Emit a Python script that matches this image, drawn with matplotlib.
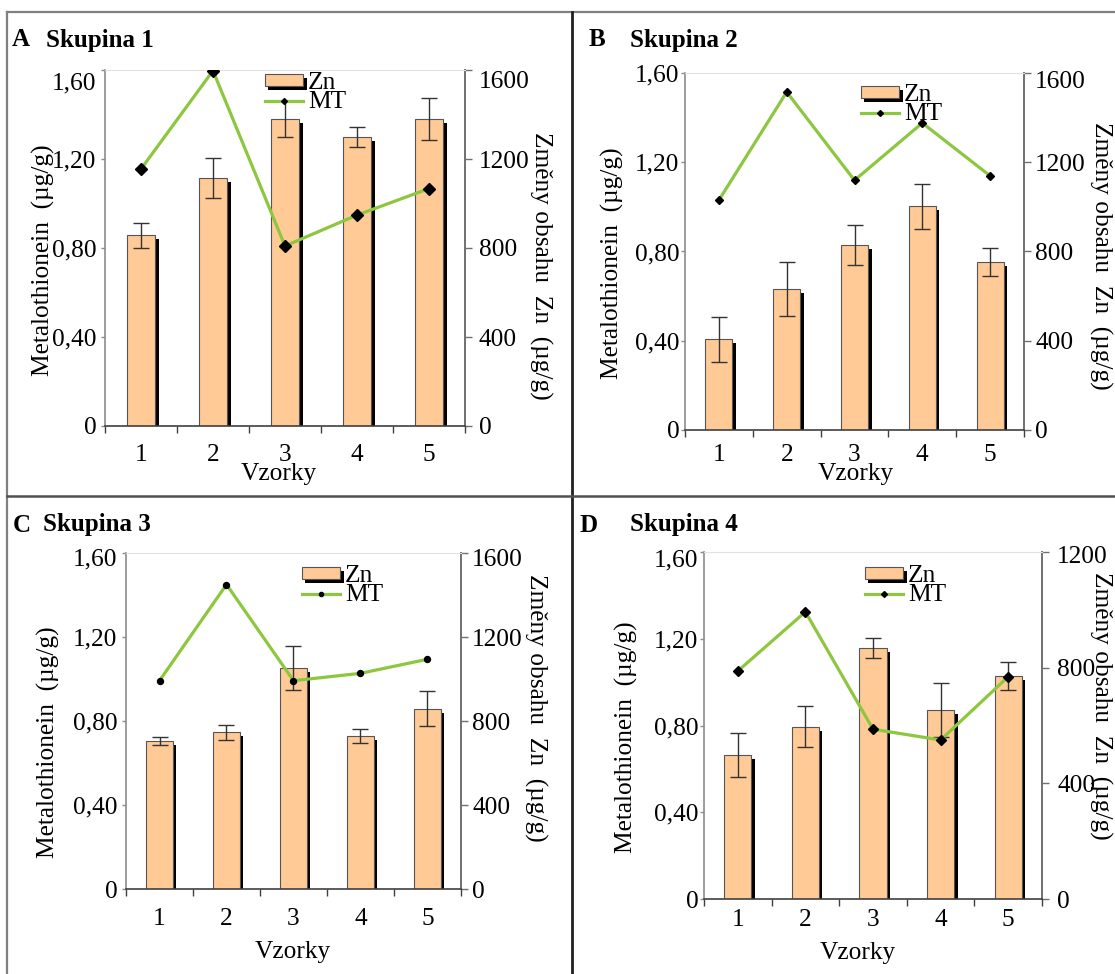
import matplotlib
matplotlib.use("Agg")
import matplotlib.pyplot as plt
from matplotlib.lines import Line2D
from matplotlib import patheffects as pe
from matplotlib.transforms import ScaledTranslation

# ---------------------------------------------------------------- data
samples = [1, 2, 3, 4, 5]
sample_labels = ["1", "2", "3", "4", "5"]

# group 1
zn_1 = [857, 1113, 1381, 1299, 1381]
zn_err_1 = [55, 90, 80, 47, 95]
mt_1 = [1.155, 1.597, 0.809, 0.948, 1.067]

# group 2
zn_2 = [406, 633, 831, 1003, 752]
zn_err_2 = [100, 120, 90, 100, 63]
mt_2 = [1.030, 1.515, 1.119, 1.376, 1.139]

# group 3
zn_3 = [706, 746, 1054, 728, 859]
zn_err_3 = [20, 36, 105, 32, 85]
mt_3 = [0.992, 1.450, 0.992, 1.027, 1.094]

# group 4
zn_4 = [498, 596, 869, 653, 771]
zn_err_4 = [75, 70, 34, 94, 47]
mt_4 = [1.051, 1.324, 0.783, 0.733, 1.025]

mt_ticks = [0, 0.40, 0.80, 1.20, 1.60]
mt_tick_labels = ["0", "0,40", "0,80", "1,20", "1,60"]
zn_ticks_1600 = [0, 400, 800, 1200, 1600]
zn_ticks_1200 = [0, 400, 800, 1200]

# ---------------------------------------------------------------- style
W, H = 1115, 974
plt.rcParams["font.family"] = ["Liberation Serif", "DejaVu Serif"]

BAR_COLOR = "#FFCA96"
LINE_COLOR = "#8DC63F"
FS = 18.3
FS_TITLE = 18

fig = plt.figure(figsize=(W / 100, H / 100), dpi=100)


def fx(px):
    return px / W


def fy(py):
    return 1 - py / H


panels = [
    dict(letter="A", group="Skupina 1", zn=zn_1, err=zn_err_1, mt=mt_1,
         zn_max=1600, zn_ticks=zn_ticks_1600, box=(105, 70, 465, 426),
         marker="D", ms=6.4, xpad=13.0, lpad=3.0, rpad=5.0, top_shift=(11, 10),
         title=(12, 46, 40), ylab_l=(43, 260), ylab_r=(541, 266), xlab=(279, 474),
         legend=(265, 72)),
    dict(letter="B", group="Skupina 2", zn=zn_2, err=zn_err_2, mt=mt_2,
         zn_max=1600, zn_ticks=zn_ticks_1600, box=(685, 73, 1024, 430),
         marker="D", ms=3.6, xpad=10.0, lpad=1.0, rpad=3.0, top_shift=(0, 7),
         title=(589, 630, 40), ylab_l=(612, 263), ylab_r=(1101, 256), xlab=(856, 474),
         legend=(861, 84)),
    dict(letter="C", group="Skupina 3", zn=zn_3, err=zn_err_3, mt=mt_3,
         zn_max=1600, zn_ticks=zn_ticks_1600, box=(126, 553, 461, 889),
         marker="o", ms=4.3, xpad=13.5, lpad=3.0, rpad=3.0, top_shift=(4, 5),
         title=(13, 43, 525), ylab_l=(48, 742), ylab_r=(536, 708), xlab=(293, 952),
         legend=(302, 565)),
    dict(letter="D", group="Skupina 4", zn=zn_4, err=zn_err_4, mt=mt_4,
         zn_max=1200, zn_ticks=zn_ticks_1200, box=(704, 552, 1042, 899),
         marker="D", ms=5.2, xpad=7.5, lpad=1.0, rpad=6.0, top_shift=(6, 3),
         title=(580, 630, 525), ylab_l=(626, 737), ylab_r=(1101, 706), xlab=(858, 953),
         legend=(865, 565)),
]

for p in panels:
    x0, y0, x1, y1 = p["box"]
    ax = fig.add_axes([fx(x0), fy(y1), (x1 - x0) / W, (y1 - y0) / H])
    ax2 = ax.twinx()
    ax.set_zorder(ax2.get_zorder() + 1)
    ax.patch.set_visible(False)

    # Zn bars with a black drop shadow, on the right-hand axis
    bars = ax2.bar(
        samples, p["zn"], width=0.4, color=BAR_COLOR, edgecolor="#555555",
        linewidth=0.8, label="Zn",
        yerr=p["err"],
        error_kw=dict(ecolor="#333333", elinewidth=1.0, capsize=6.0, capthick=1.0),
        path_effects=[pe.SimplePatchShadow(offset=(2.5, -2.9), shadow_rgbFace="k",
                                           alpha=1.0), pe.Normal()],
    )
    ax2.set_ylim(0, p["zn_max"])
    ax2.set_yticks(p["zn_ticks"], [str(t) for t in p["zn_ticks"]])
    ax2.tick_params(axis="y", length=5, width=1, color="#707070", pad=p["rpad"],
                    labelsize=FS)
    for side in ("left", "top", "bottom"):
        ax2.spines[side].set_visible(False)
    ax2.spines["right"].set_color("#707070")
    ax2.spines["right"].set_linewidth(1.4)

    # MT line on the left-hand axis
    line, = ax.plot(samples, p["mt"], color=LINE_COLOR, lw=2.3, marker=p["marker"],
                    ms=p["ms"], mfc="k", mec="k", label="MT", zorder=3)
    ax.set_ylim(0, 1.6)
    ax.set_yticks(mt_ticks, mt_tick_labels)
    ax.tick_params(axis="y", length=3, width=1, color="#8c8c8c", pad=p["lpad"],
                   labelsize=FS)
    ax.set_xlim(0.5, 5.5)
    ax.set_xticks(samples, sample_labels)
    ax.set_xticks([0.5, 1.5, 2.5, 3.5, 4.5, 5.5], minor=True)
    ax.tick_params(axis="x", which="major", length=0, pad=p["xpad"], labelsize=FS)
    ax.tick_params(axis="x", which="minor", length=5, width=1, color="#404040",
                   direction="out")
    ax.spines["right"].set_visible(False)
    ax.spines["left"].set_color("#8c8c8c")
    ax.spines["left"].set_linewidth(1.2)
    ax.spines["bottom"].set_color("#404040")
    ax.spines["bottom"].set_linewidth(1.2)
    ax.spines["top"].set_color("#e0e0e0")

    # the topmost tick labels sit slightly below their ticks
    sl, sr = p["top_shift"]
    lab_l = ax.yaxis.get_major_ticks()[-1].label1
    lab_l.set_transform(lab_l.get_transform()
                        + ScaledTranslation(0, -sl / 100, fig.dpi_scale_trans))
    lab_r = ax2.yaxis.get_major_ticks()[-1].label2
    lab_r.set_transform(lab_r.get_transform()
                        + ScaledTranslation(0, -sr / 100, fig.dpi_scale_trans))

    ax.legend(
        [bars, line], ["Zn", "MT"], loc="upper left",
        bbox_to_anchor=(fx(p["legend"][0]), fy(p["legend"][1])),
        bbox_transform=fig.transFigure, frameon=False, fontsize=FS,
        handlelength=1.5, handleheight=0.35, handletextpad=0.2,
        labelspacing=-0.1, borderpad=0, borderaxespad=0,
        markerscale=3.0 / p["ms"],
    )

    # titles and axis labels
    tx_letter, tx_group, ty = p["title"]
    fig.text(fx(tx_letter), fy(ty), p["letter"], fontsize=FS_TITLE, fontweight="bold",
             ha="left", va="center")
    fig.text(fx(tx_group), fy(ty), p["group"], fontsize=FS_TITLE, fontweight="bold",
             ha="left", va="center")
    fig.text(fx(p["ylab_l"][0]), fy(p["ylab_l"][1]), "Metalothionein  (µg/g)",
             fontsize=FS, rotation=90, ha="center", va="center")
    fig.text(fx(p["ylab_r"][0]), fy(p["ylab_r"][1]), "Změny obsahu  Zn  (µg/g)",
             fontsize=FS, rotation=270, ha="center", va="center")
    fig.text(fx(p["xlab"][0]), fy(p["xlab"][1]), "Vzorky", fontsize=FS,
             ha="center", va="center")

# panel frame lines
frame = [
    (([7, W], [12, 12]), "#808080", 1.6),
    (([7, 7], [12, H]), "#808080", 1.6),
    (([572, 572], [12, H]), "#202020", 2.0),
    (([7, W], [496, 496]), "#505050", 1.8),
]
for (xs, ys), col, lw in frame:
    fig.add_artist(Line2D([fx(v) for v in xs], [fy(v) for v in ys],
                          transform=fig.transFigure, color=col, lw=lw))

fig.savefig("out.png", dpi=100)
